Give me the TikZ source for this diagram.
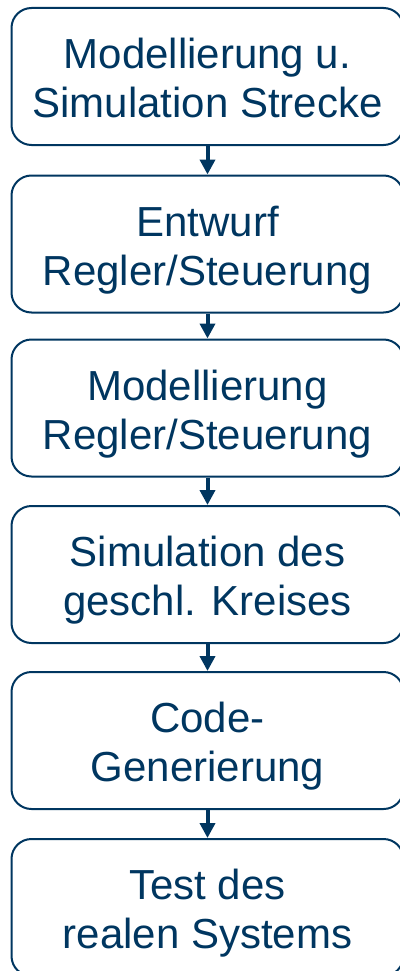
\documentclass[tikz,border=0pt]{standalone}
\usepackage{fontspec}
\setmainfont{Liberation Sans}
\usetikzlibrary{arrows.meta}
\definecolor{dblue}{RGB}{0,54,96}
\newcommand\twolines[2]{\rule{0pt}{48pt}#1\\#2\rule[-14.7pt]{0pt}{14.7pt}}
\begin{document}
\begin{tikzpicture}[x=1pt,y=-1pt,
  stepbox/.style={draw=dblue, line width=2pt, rounded corners=20pt,
    minimum width=392pt, minimum height=137pt, inner sep=0pt,
    align=center, text=dblue, font=\fontsize{42}{49}\selectfont},
  flow/.style={draw=dblue, line width=4pt, -{Triangle[length=15pt,width=15pt]}}]
\useasboundingbox (0,0) rectangle (399,971);
\node[stepbox] (b1) at (207.5,76.5) {\twolines{Modellierung u.}{Simulation Strecke}};
\node[stepbox] (b2) at (207.5,244) {\twolines{Entwurf}{Regler/Steuerung}};
\node[stepbox] (b3) at (207.5,408) {\twolines{Modellierung}{Regler/Steuerung}};
\node[stepbox] (b4) at (207.5,574.5) {\twolines{Simulation des}{geschl. Kreises}};
\node[stepbox] (b5) at (207.5,740.5) {\twolines{Code-}{Generierung}};
\node[stepbox] (b6) at (207.5,907.5) {\twolines{Test des}{realen Systems}};
\draw[flow] (b1) -- (b2);
\draw[flow] (b2) -- (b3);
\draw[flow] (b3) -- (b4);
\draw[flow] (b4) -- (b5);
\draw[flow] (b5) -- (b6);
\end{tikzpicture}
\end{document}
